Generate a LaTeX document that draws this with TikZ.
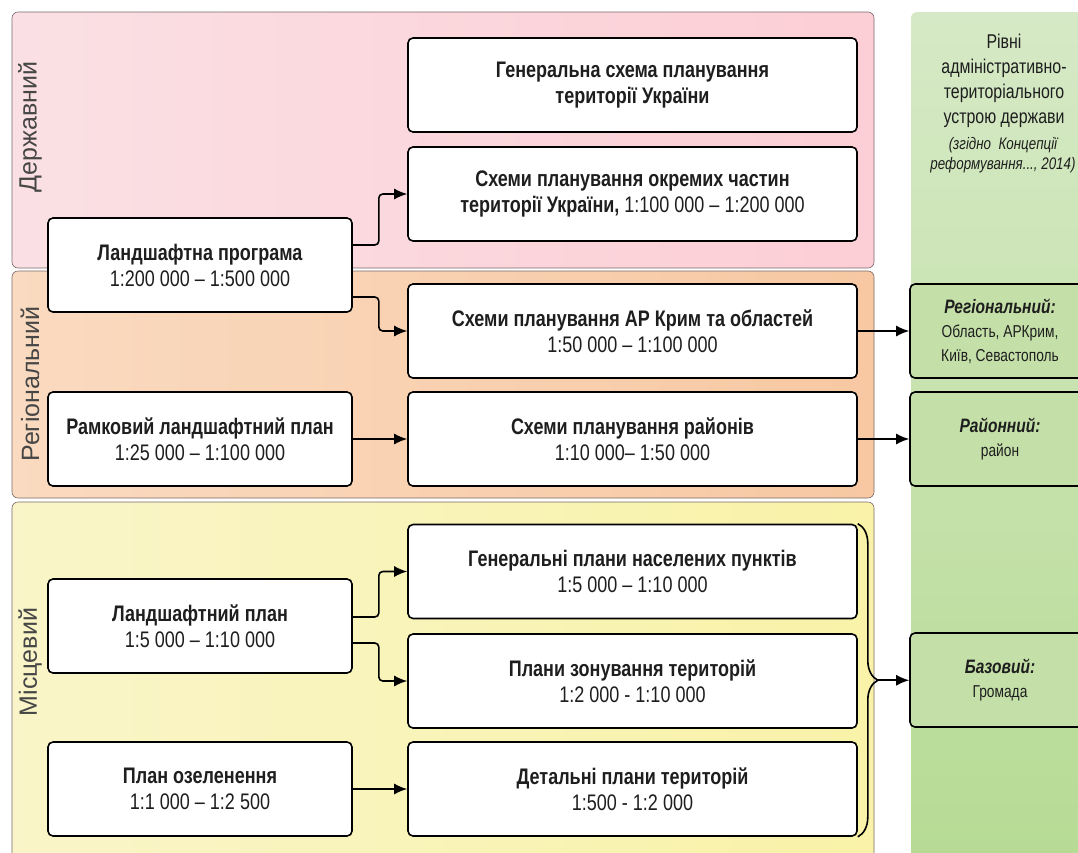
\documentclass[tikz,border=0pt]{standalone}
\usepackage{fontspec}
\setmainfont{Liberation Sans}[FakeStretch=0.8]
\newfontfamily\bandfont{Liberation Sans}
\usetikzlibrary{calc,arrows.meta,decorations.pathreplacing}
\definecolor{redL}{RGB}{250,224,228}
\definecolor{redR}{RGB}{252,206,213}
\definecolor{orgL}{RGB}{250,218,192}
\definecolor{orgR}{RGB}{247,200,162}
\definecolor{yelL}{RGB}{249,245,200}
\definecolor{yelR}{RGB}{249,242,168}
\definecolor{grnT}{RGB}{214,233,198}
\definecolor{grnB}{RGB}{182,219,148}
\definecolor{grnbox}{RGB}{196,224,168}
\definecolor{bandline}{RGB}{120,105,105}
\definecolor{labelgray}{RGB}{70,70,70}
\definecolor{txt}{RGB}{30,30,30}

\begin{document}
\begin{tikzpicture}[%
x=1pt, y=-1pt,
box/.style={draw=black, line width=1.6pt, rounded corners=5pt, fill=white, inner sep=0pt, text=txt,
  minimum width=449pt, minimum height=94pt, align=center, font=\fontsize{22.5}{26}\selectfont},
lbox/.style={box, minimum width=304pt},
gbox/.style={box, fill=grnbox, minimum width=180pt, font=\fontsize{17.2}{24}\selectfont},
conn/.style={line width=1.6pt, rounded corners=4pt, -{Latex[length=13pt,width=11pt]}},
band/.style={draw=bandline, line width=0.6pt, rounded corners=6pt},
bandlabel/.style={rotate=90, font=\bandfont\fontsize{25}{28}\selectfont, text=labelgray},
]
\useasboundingbox (0,0) rectangle (1078,852);
\clip (0,0) rectangle (1078,852);
%% levels column;
\shade[top color=grnT, bottom color=grnB, rounded corners=6pt] (911,12) rectangle (1100,870);
%% bands;
\shadedraw[band, left color=redL, right color=redR] (12,12) rectangle (874,268);
\shadedraw[band, left color=orgL, right color=orgR] (12,271) rectangle (874,498);
\shadedraw[band, left color=yelL, right color=yelR] (12,502) rectangle (874,880);
\node[bandlabel] (lstate) at (30,127) {Державний};
\node[bandlabel] (lreg) at (30,384) {Регіональний};
\node[bandlabel] (lloc) at (30,662) {Місцевий};
%% header;
\node[align=center, text=txt, font=\fontsize{19.9}{25}\selectfont] (hdr) at (1004,81)
  {Рівні\\адміністративно-\\територіального\\устрою держави};
\node[align=center, text=txt, font=\itshape\fontsize{16.7}{20}\selectfont] (hdrnote) at (1003,155)
  {(згідно\ \ Концепції\\реформування..., 2014)};
%% state level;
\node[box] (gensch) at (632.5,85) {\textbf{Генеральна схема планування}\\\textbf{території України}};
\node[box] (okrem) at (632.5,194) {\textbf{Схеми планування окремих частин}\\\textbf{території України,} 1:100 000 – 1:200 000};
\node[lbox] (lprog) at (200,265) {\textbf{Ландшафтна програма}\\1:200 000 – 1:500 000};
%% regional level;
\node[box] (krym) at (632.5,331) {\textbf{Схеми планування АР Крим та областей}\\1:50 000 – 1:100 000};
\node[box] (rayon) at (632.5,439) {\textbf{Схеми планування районів}\\1:10 000– 1:50 000};
\node[lbox] (ramk) at (200,439) {\textbf{Рамковий ландшафтний план}\\1:25 000 – 1:100 000};
%% local level;
\node[box] (genpl) at (632.5,571.5) {\textbf{Генеральні плани населених пунктів}\\1:5 000 – 1:10 000};
\node[box] (zon) at (632.5,681) {\textbf{Плани зонування територій}\\1:2 000 - 1:10 000};
\node[box] (det) at (632.5,789) {\textbf{Детальні плани територій}\\1:500 - 1:2 000};
\node[lbox] (lplan) at (200,626) {\textbf{Ландшафтний план}\\1:5 000 – 1:10 000};
\node[lbox] (ozel) at (200,789) {\textbf{План озеленення}\\1:1 000 – 1:2 500};
%% levels;
\node[gbox] (reg) at (1000,331) {{\bfseries\itshape\fontsize{19.4}{24}\selectfont Регіональний:}\\Область, АРКрим,\\Київ, Севастополь};
\node[gbox] (rayl) at (1000,439) {{\bfseries\itshape\fontsize{19.4}{24}\selectfont Районний:}\\район};
\node[gbox] (baz) at (1000,680) {{\bfseries\itshape\fontsize{19.4}{24}\selectfont Базовий:}\\Громада};
%% connectors;
\draw[conn] ([yshift=20pt]lprog.east) -- ++(26,0) |- (okrem.west);
\draw[conn] ([yshift=-32pt]lprog.east) -- ++(26,0) |- (krym.west);
\draw[conn] (ramk.east) -- (rayon.west);
\draw[conn] ([yshift=9pt]lplan.east) -- ++(26,0) |- (genpl.west);
\draw[conn] ([yshift=-17pt]lplan.east) -- ++(26,0) |- (zon.west);
\draw[conn] (ozel.east) -- (det.west);
\draw[conn] (krym.east) -- (reg.west);
\draw[conn] (rayon.east) -- (rayl.west);
%% brace;
\draw[line width=1.6pt, decorate, decoration={brace, amplitude=20pt}] (genpl.north east) -- (det.south east);
\coordinate (brtip) at ($(genpl.north east)!0.5!(det.south east) + (20,0)$);
\draw[conn] (brtip) -- (brtip -| baz.west);
\end{tikzpicture}
\end{document}
